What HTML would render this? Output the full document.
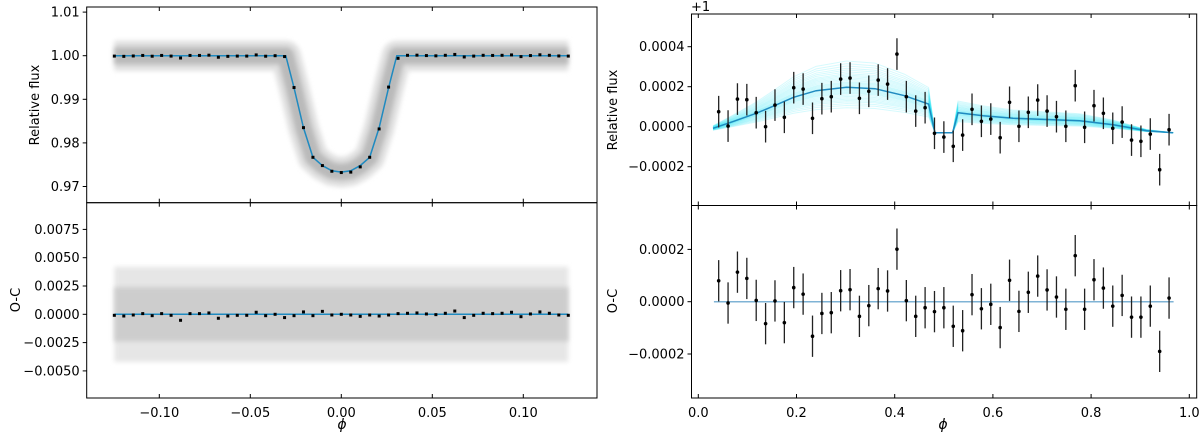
<!DOCTYPE html>
<html><head><meta charset="utf-8"><style>
html,body{margin:0;padding:0;background:#fff;}
svg{display:block;font-family:"DejaVu Sans","Liberation Sans",sans-serif;}
</style></head><body>
<svg id="fig" width="1200" height="435" viewBox="0 0 1200 435" xmlns="http://www.w3.org/2000/svg"></svg>
<script>
// ---------- data ----------
const binPhaseStart = -0.1247, binPhaseStep = 0.005196;
const ocBin = [-0.9,-1.5,-0.6,0.6,-1.2,0.6,-0.9,-5.3,0.6,0.6,1.2,-3.5,-1.5,-0.9,-0.9,1.8,-1.2,0,-2.9,-1.2,2.1,-1.2,2.6,-0.6,0,-0.6,-1.8,-0.6,-1.5,-0.6,0.6,0.9,1.2,0.3,-0.3,0.9,2.9,-2.9,-0.9,0.9,0.6,0.9,1.8,-2.1,0.3,2.1,0.9,-0.6,-0.9]; // 1e-4
const transitIdx = [18,19,20,21,22,23,24,25,26,27,28,29,30];
const transitFlux = [0.9998,0.9927,0.9835,0.9767,0.9748,0.9735,0.9732,0.9733,0.9745,0.9767,0.9832,0.9928,0.9994];
const modelPhase = [-0.1247,-0.0305,-0.026,-0.0208,-0.0156,-0.0104,-0.0052,0,0.0052,0.0104,0.0156,0.0208,0.026,0.0305,0.1247];
const modelFlux = [1,1,0.9927,0.9835,0.9767,0.9748,0.9736,0.9733,0.9736,0.9748,0.9767,0.9835,0.9927,1,1];
const leftXTicks = [-0.10,-0.05,0.00,0.05,0.10];
const leftXLabels = ["−0.10","−0.05","0.00","0.05","0.10"];
const fluxTicks = [1.01,1.00,0.99,0.98,0.97];
const fluxLabels = ["1.01","1.00","0.99","0.98","0.97"];
const ocTicks = [0.0075,0.005,0.0025,0,-0.0025,-0.005];
const ocLabels = ["0.0075","0.0050","0.0025","0.0000","−0.0025","−0.0050"];

const rPhaseStart = 0.0415, rPhaseStep = 0.01911;
const rFlux = [0.75,0.03,1.38,1.35,0.70,0,1.08,0.47,1.95,1.88,0.42,1.40,1.50,2.38,2.43,1.42,1.77,2.33,2.13,3.63,1.50,0.78,0.95,-0.33,-0.52,-0.98,-0.42,0.87,0.27,0.38,-0.55,1.22,0.02,0.72,1.33,0.78,0.50,0.02,2.05,-0.03,1.05,0.67,-0.08,0.23,-0.67,-0.73,-0.37,-2.15,-0.15]; // 1e-4
const rResid = [0.80,-0.05,1.13,0.89,0.05,-0.84,0.03,-0.80,0.54,0.29,-1.32,-0.45,-0.42,0.42,0.46,-0.56,-0.15,0.50,0.41,2.01,0.04,-0.56,-0.23,-0.38,-0.23,-0.94,-1.11,0.27,-0.27,-0.10,-0.99,0.82,-0.37,0.36,0.98,0.45,0.18,-0.29,1.76,-0.29,0.84,0.52,-0.17,0.24,-0.59,-0.59,-0.17,-1.90,0.14]; // 1e-4
const rErr = 0.79; // 1e-4
const rModelPhase = [0.03,0.07,0.118,0.155,0.194,0.24,0.302,0.36,0.42,0.469,0.482,0.518,0.529,0.58,0.641,0.777,0.845,0.913,0.967];
const rModelVal = [-0.08,0.25,0.67,1.05,1.47,1.8,1.97,1.9,1.55,1.13,-0.3,-0.3,0.7,0.55,0.42,0.3,0.1,-0.2,-0.3];
const sampleScale = [0.55,0.6,0.64,0.68,0.71,0.74,0.77,0.8,0.83,0.86,0.88,0.9,0.92,0.94,0.96,0.98,1.0,1.02,1.04,1.06,1.08,1.1,1.12,1.15,1.18,1.21,1.24,1.27,1.3,1.34,1.38,1.42,1.47,1.52,1.58];
const rXTicks = [0,0.2,0.4,0.6,0.8,1.0];
const rXLabels = ["0.0","0.2","0.4","0.6","0.8","1.0"];
const rTopTicks = [4,2,0,-2];
const rTopLabels = ["0.0004","0.0002","0.0000","−0.0002"];
const rBotTicks = [2,0,-2];
const rBotLabels = ["0.0002","0.0000","−0.0002"];

// ---------- helpers ----------
const NS="http://www.w3.org/2000/svg";
const svg=document.getElementById('fig');
function mk(tag,attrs,parent){const e=document.createElementNS(NS,tag);for(const k in attrs)e.setAttribute(k,attrs[k]);(parent||svg).appendChild(e);return e;}
function lin(d0,d1,r0,r1){return v=>r0+(v-d0)*(r1-r0)/(d1-d0);}

const LX=lin(0,0.05,341.3,432.3);
const LYf=lin(1.00,0.99,55.7,99.3);
const LYo=lin(0,0.0025,314.3,286.0);
const RX=lin(0,1,698.3,1189.3);
const RYt=lin(0,2,126.7,86.7);
const RYb=lin(0,2,301.7,249.4);
const L={x0:86.7,x1:597,t:7,m:202.7,b:398};
const R={x0:691.5,x1:1196.7,t:14,m:205.5,b:398};

function pathFrom(xs,ys,fx,fy){return xs.map((v,i)=>(i?'L':'M')+fx(v).toFixed(2)+' '+fy(ys[i]).toFixed(2)).join(' ');}

const defs=mk('defs',{});
const c1=mk('clipPath',{id:'clipLT'},defs);mk('rect',{x:L.x0,y:L.t,width:L.x1-L.x0,height:L.m-L.t},c1);
const c2=mk('clipPath',{id:'clipLB'},defs);mk('rect',{x:L.x0,y:L.m,width:L.x1-L.x0,height:L.b-L.m},c2);
const c3=mk('clipPath',{id:'clipRT'},defs);mk('rect',{x:R.x0,y:R.t,width:R.x1-R.x0,height:R.m-R.t},c3);
const c4=mk('clipPath',{id:'clipRB'},defs);mk('rect',{x:R.x0,y:R.m,width:R.x1-R.x0,height:R.b-R.m},c4);
const blur=mk('filter',{id:'soft',x:'-10%',y:'-30%',width:'120%',height:'160%'},defs);
mk('feGaussianBlur',{stdDeviation:2.5},blur);

// ---------- left top ----------
const gLT=mk('g',{'clip-path':'url(#clipLT)'});


const mPath=pathFrom(modelPhase,modelFlux,LX,LYf);
const band1=mk('path',{d:mPath,fill:'none',stroke:'#e0e0e0',"stroke-width":30,"stroke-linejoin":'round',filter:'url(#soft)'},gLT);


const band2=mk('path',{d:mPath,fill:'none',stroke:'#bababa',"stroke-width":17,"stroke-linejoin":'round',filter:'url(#soft)'},gLT);


const ml=mk('path',{d:mPath,fill:'none',stroke:'#1f8ac0',"stroke-width":1.5},gLT);


ocBin.forEach((v,i)=>{
  const ph=binPhaseStart+i*binPhaseStep;
  const ti=transitIdx.indexOf(i);
  const f= ti>=0 ? transitFlux[ti] : 1+v*1e-4;
  const p=mk('rect',{x:LX(ph)-1.5,y:LYf(f)-1.5,width:3,height:3,fill:'#000'},gLT);
  
  
});

// ---------- left bottom ----------
const gLB=mk('g',{'clip-path':'url(#clipLB)'});


const ocx0=LX(-0.1247), ocx1=LX(0.1247);
const b3=mk('rect',{x:ocx0,y:LYo(0.0042),width:ocx1-ocx0,height:LYo(-0.0042)-LYo(0.0042),fill:'#e6e6e6',filter:'url(#soft)'},gLB);


const b4=mk('rect',{x:ocx0,y:LYo(0.0024),width:ocx1-ocx0,height:LYo(-0.0024)-LYo(0.0024),fill:'#cdcdcd',filter:'url(#soft)'},gLB);


const zl=mk('line',{x1:ocx0,x2:ocx1,y1:LYo(0),y2:LYo(0),stroke:'#1f8ac0',"stroke-width":1.5},gLB);


ocBin.forEach((v,i)=>{
  const ph=binPhaseStart+i*binPhaseStep;
  const p=mk('rect',{x:LX(ph)-1.5,y:LYo(v*1e-4)-1.5,width:3,height:3,fill:'#000'},gLB);
  
  
});

// ---------- right top ----------
const gRT=mk('g',{'clip-path':'url(#clipRT)'});


sampleScale.forEach(s=>{
  const vals=rModelVal.map(v=>-0.3+s*(v+0.3));
  const sp=mk('path',{d:pathFrom(rModelPhase,vals,RX,RYt),fill:'none',stroke:'#00e0f0',"stroke-width":1,opacity:0.16},gRT);
  
  
});
const rm=mk('path',{d:pathFrom(rModelPhase,rModelVal,RX,RYt),fill:'none',stroke:'#1f8ac0',"stroke-width":1.5},gRT);


rFlux.forEach((v,i)=>{
  const x=RX(rPhaseStart+i*rPhaseStep);
  const eb=mk('line',{x1:x,x2:x,y1:RYt(v+rErr),y2:RYt(v-rErr),stroke:'#222',"stroke-width":1.3},gRT);
  
  
  const p=mk('circle',{cx:x,cy:RYt(v),r:1.8,fill:'#000'},gRT);
  
  
});

// ---------- right bottom ----------
const gRB=mk('g',{'clip-path':'url(#clipRB)'});


const rz=mk('line',{x1:RX(0.0318),x2:RX(0.968),y1:RYb(0),y2:RYb(0),stroke:'#7fb3d5',"stroke-width":1.5},gRB);


rResid.forEach((v,i)=>{
  const x=RX(rPhaseStart+i*rPhaseStep);
  const eb=mk('line',{x1:x,x2:x,y1:RYb(v+rErr),y2:RYb(v-rErr),stroke:'#222',"stroke-width":1.3},gRB);
  
  
  const p=mk('circle',{cx:x,cy:RYb(v),r:1.8,fill:'#000'},gRB);
  
  
});

// ---------- axes frames and ticks ----------
function frame(A,name){
  for(const [t,b,n] of [[A.t,A.m,'top'],[A.m,A.b,'bottom']]){
    const r=mk('rect',{x:A.x0,y:t,width:A.x1-A.x0,height:b-t,fill:'none',stroke:'#000',"stroke-width":1});
    
    
  }
}
frame(L,'left');frame(R,'right');
function xTicks(A,ticks,labels,fx,name){
  ticks.forEach((t,i)=>{
    const x=fx(t);
    for(const y of [A.t,A.m,A.b]){
      const dirs = y===A.m ? [-4,4] : (y===A.t ? [4] : [-4]);
      dirs.forEach(d=>{const l=mk('line',{x1:x,x2:x,y1:y,y2:y+d,stroke:'#000',"stroke-width":1});
        
        });
    }
    const tx=mk('text',{x:x,y:A.b+19,"font-size":13,"text-anchor":'middle',fill:'#000'});
    tx.textContent=labels[i];
    
    
  });
}
xTicks(L,leftXTicks,leftXLabels,LX,'left');
xTicks(R,rXTicks,rXLabels,RX,'right');
function yTicks(x0,ticks,labels,fy,name){
  ticks.forEach((t,i)=>{
    const y=fy(t);
    const l=mk('line',{x1:x0-4,x2:x0,y1:y,y2:y,stroke:'#000',"stroke-width":1});
    
    
    const tx=mk('text',{x:x0-7,y:y+4.5,"font-size":13,"text-anchor":'end',fill:'#000'});
    tx.textContent=labels[i];
    
    
  });
}
yTicks(L.x0,fluxTicks,fluxLabels,LYf,'left-flux');
yTicks(L.x0,ocTicks,ocLabels,LYo,'left-oc');
yTicks(R.x0,rTopTicks,rTopLabels,RYt,'right-flux');
yTicks(R.x0,rBotTicks,rBotLabels,RYb,'right-oc');

function ylabel(x,y,txt,name){
  const t=mk('text',{x:x,y:y,"font-size":13,"text-anchor":'middle',transform:`rotate(-90 ${x} ${y})`,fill:'#000'});
  t.textContent=txt;
  
  
}
ylabel(39,105,'Relative flux','left-flux-y-label');
ylabel(20,300,'O-C','left-oc-y-label');
ylabel(617,110,'Relative flux','right-flux-y-label');
ylabel(617,301,'O-C','right-oc-y-label');
function xlabel(x,name){
  const t=mk('text',{x:x,y:429,"font-size":14,"font-style":'italic',"text-anchor":'middle',fill:'#000'});
  t.textContent='ϕ';
  
  
}
xlabel(342,'left-x-label');xlabel(943,'right-x-label');
const off=mk('text',{x:691,y:11,"font-size":13,fill:'#000'});
off.textContent='+1';


</script>
</body></html>
